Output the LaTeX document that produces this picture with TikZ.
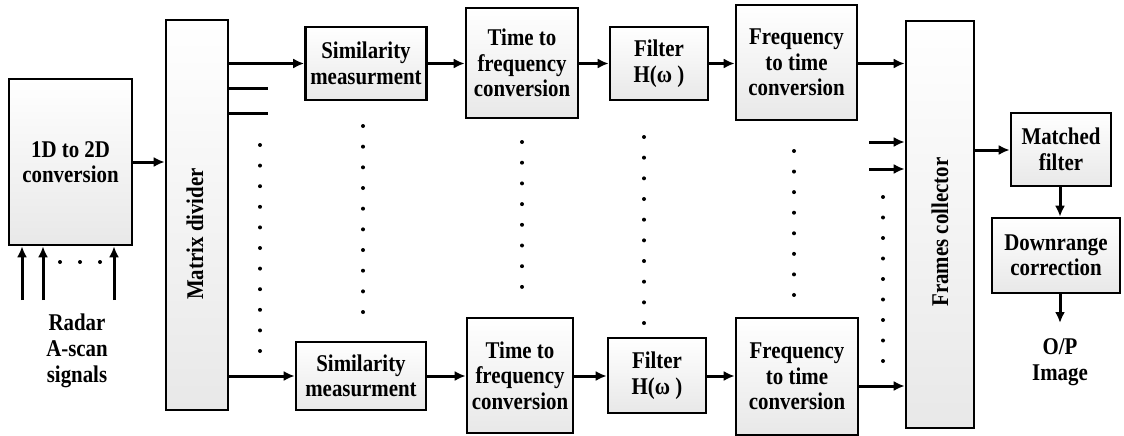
\documentclass[tikz,border=0pt]{standalone}
\usepackage{fontspec}
\setmainfont{Liberation Serif}[FakeStretch=0.87]
\usetikzlibrary{arrows.meta}
\begin{document}
\begin{tikzpicture}[x=1pt,y=-1pt,
  blk/.style={draw, line width=2.6pt, top color=white, bottom color=black!9, align=center, inner sep=0pt, font=\fontsize{24}{25.5}\selectfont\bfseries},
  arr/.style={line width=3pt, -{Latex[length=11pt,width=10pt]}},
  ln/.style={line width=3pt},
  lbl/.style={align=center, inner sep=0pt, font=\fontsize{24}{26}\selectfont\bfseries},
  dotr/.style={radius=2pt}]
\useasboundingbox (0,0) rectangle (1124,436);
% blocks
\node[blk, minimum width=123pt, minimum height=166pt] (conv) at (70.5,162) {1D to 2D\\conversion};
\node[blk, minimum width=62pt, minimum height=390pt] (mdiv) at (197,215) {};
\node[lbl, rotate=90] (mdivt) at (195,234) {Matrix divider};
\node[blk, minimum width=121pt, minimum height=73pt] (sim1) at (366,63.5) {Similarity\\measurment};
\node[blk, minimum width=130pt, minimum height=68pt] (sim2) at (361,376) {Similarity\\measurment};
\node[blk, minimum width=112pt, minimum height=110pt] (tf1) at (522,63) {Time to\\frequency\\conversion};
\node[blk, minimum width=106pt, minimum height=115pt] (tf2) at (520,375.5) {Time to\\frequency\\conversion};
\node[blk, minimum width=98pt, minimum height=73pt] (f1) at (659,63.5) {Filter\\H(ω )};
\node[blk, minimum width=98pt, minimum height=75pt] (f2) at (657,375.5) {Filter\\H(ω )};
\node[blk, minimum width=121pt, minimum height=115pt] (ft1) at (796.5,62.5) {Frequency\\to time\\conversion};
\node[blk, minimum width=122pt, minimum height=117pt] (ft2) at (797,376.5) {Frequency\\to time\\conversion};
\node[blk, minimum width=68pt, minimum height=407pt] (fc) at (940,224.5) {};
\node[lbl, rotate=90] (fct) at (940,232) {Frames collector};
\node[blk, minimum width=100pt, minimum height=73pt] (mf) at (1061,149.5) {Matched\\filter};
\node[blk, minimum width=128pt, minimum height=75pt] (dr) at (1056,255.5) {Downrange\\correction};
% labels
\node[lbl] (radar) at (77,351) {Radar\\A-scan\\signals};
\node[lbl] (op) at (1060,362.5) {O/P\\Image};
% input arrows
\coordinate (in1) at (22,300);
\coordinate (in2) at (43,300);
\coordinate (in3) at (114,300);
\draw[arr] (in1) -- (in1 |- conv.south);
\draw[arr] (in2) -- (in2 |- conv.south);
\draw[arr] (in3) -- (in3 |- conv.south);
\foreach \x in {60,80,100} \fill (\x,262) circle[dotr];
% conv -> mdiv
\draw[arr] (conv.east) -- (conv.east -| mdiv.west);
% top row
\draw[arr] (mdiv.east |- sim1.west) -- (sim1.west);
\coordinate (l1) at (268,88);
\coordinate (l2) at (268,113);
\draw[ln] (mdiv.east |- l1) -- (l1);
\draw[ln] (mdiv.east |- l2) -- (l2);
\draw[arr] (sim1.east) -- (sim1.east -| tf1.west);
\draw[arr] (tf1.east |- sim1.east) -- (f1.west);
\draw[arr] (f1.east) -- (f1.east -| ft1.west);
\draw[arr] (ft1.east |- f1.east) -- (ft1.east |- f1.east -| fc.west);
% bottom row
\draw[arr] (mdiv.east |- sim2.west) -- (sim2.west);
\draw[arr] (sim2.east) -- (sim2.east -| tf2.west);
\draw[arr] (tf2.east |- sim2.east) -- (sim2.east -| f2.west);
\draw[arr] (f2.east |- sim2.east) -- (sim2.east -| ft2.west);
\coordinate (b3) at (858,386);
\draw[arr] (ft2.east |- b3) -- (b3 -| fc.west);
% extra inputs to frames collector
\coordinate (e1) at (869,142);
\coordinate (e2) at (869,169);
\draw[arr] (e1) -- (e1 -| fc.west);
\draw[arr] (e2) -- (e2 -| fc.west);
% right part
\coordinate (o1) at (975,150);
\draw[arr] (fc.east |- o1) -- (o1 -| mf.west);
\coordinate (o2) at (1060,323);
\draw[arr] (o2 |- mf.south) -- (o2 |- dr.north);
\draw[arr] (o2 |- dr.south) -- (o2);
% dots
\foreach \i in {0,...,10} \fill (260,{145+20.6*\i}) circle[dotr];
\foreach \i in {0,...,9} \fill (363,{126+20.67*\i}) circle[dotr];
\foreach \i in {0,...,7} \fill (522,{142+20.7*\i}) circle[dotr];
\foreach \i in {0,...,9} \fill (644,{137+20.67*\i}) circle[dotr];
\foreach \i in {0,...,7} \fill (794,{151+20.57*\i}) circle[dotr];
\foreach \i in {0,...,8} \fill (883,{197+20.5*\i}) circle[dotr];
\end{tikzpicture}
\end{document}
